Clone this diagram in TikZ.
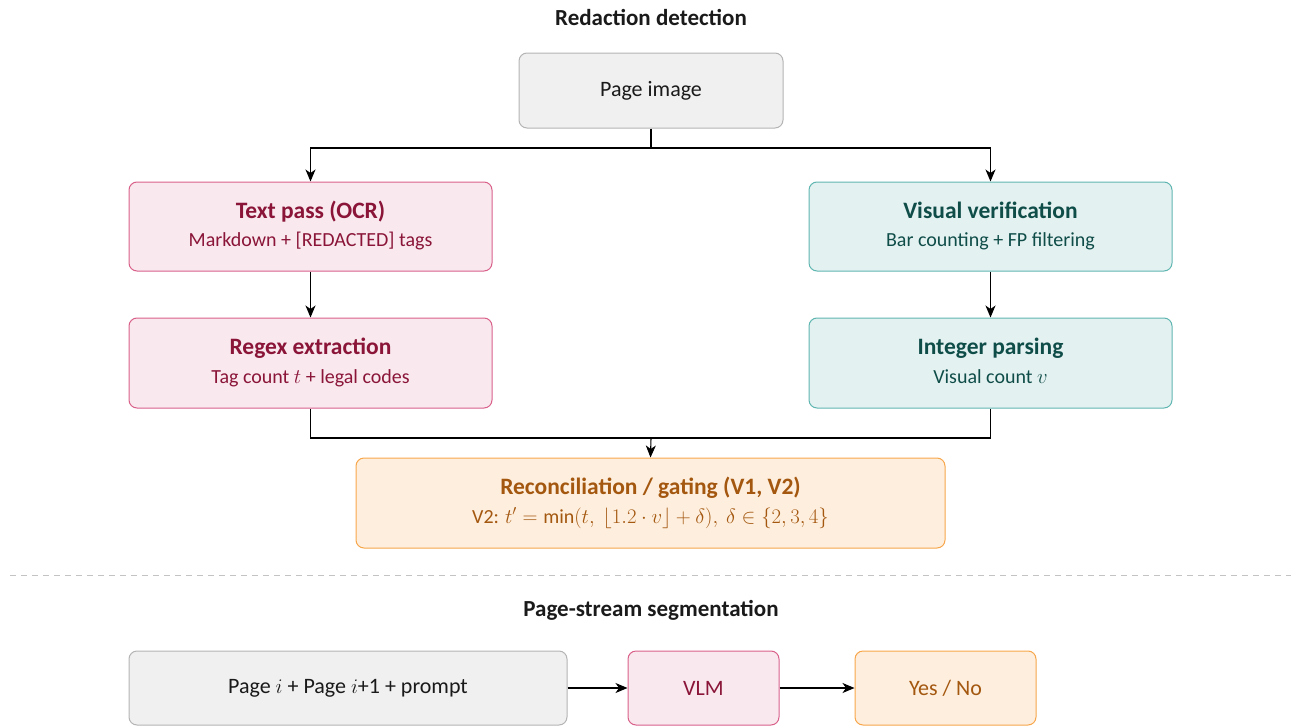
\documentclass[tikz,border=0pt]{standalone}
\usepackage{fontspec}
\setmainfont{Carlito}
\usetikzlibrary{arrows.meta}
\definecolor{pinkfill}{HTML}{F9E9EF}
\definecolor{pinkdraw}{HTML}{D9608A}
\definecolor{pinktext}{HTML}{8A1538}
\definecolor{tealfill}{HTML}{E4F1F1}
\definecolor{tealdraw}{HTML}{5FB5B0}
\definecolor{tealtext}{HTML}{0F4D49}
\definecolor{orfill}{HTML}{FEEEDD}
\definecolor{ordraw}{HTML}{F7A64B}
\definecolor{ortext}{HTML}{A3570F}
\definecolor{grfill}{HTML}{F0F0F0}
\definecolor{grdraw}{HTML}{B4B4B4}
\definecolor{grtext}{HTML}{1A1A1A}
\tikzset{
  box/.style={rounded corners=8pt, line width=1pt, align=center, inner sep=0pt},
  pinkbox/.style={box, fill=pinkfill, draw=pinkdraw, text=pinktext},
  tealbox/.style={box, fill=tealfill, draw=tealdraw, text=tealtext},
  orbox/.style={box, fill=orfill, draw=ordraw, text=ortext},
  grbox/.style={box, fill=grfill, draw=grdraw, text=grtext},
  conn/.style={line width=1.1pt, draw=black},
  arr/.style={conn, -{Stealth[length=12pt,width=10pt,inset=3.5pt]}},
  ttl/.style={font=\fontsize{23}{27}\selectfont\bfseries, text=grtext},
  big/.style={font=\fontsize{22}{26}\selectfont},
}
\newcommand{\hdsub}[2]{{\fontsize{23.5}{27}\selectfont\bfseries\strut #1}\\[3pt]{\fontsize{20}{23}\selectfont\strut #2}}
\begin{document}
\begin{tikzpicture}[x=1pt,y=-1pt]
\useasboundingbox (0,0) rectangle (1291,728);
\node[ttl] (t1) at (651,17) {Redaction detection};
\node[grbox, minimum width=264pt, minimum height=75pt, big] (page) at (651,90.5) {Page image};
\node[pinkbox, minimum width=363pt, minimum height=89pt] (text) at (310.5,226.5) {\hdsub{Text pass (OCR)}{Markdown + [REDACTED] tags}};
\node[tealbox, minimum width=363pt, minimum height=89pt] (vis) at (990.5,226.5) {\hdsub{Visual verification}{Bar counting + FP filtering}};
\node[pinkbox, minimum width=363pt, minimum height=90pt] (regex) at (310.5,363) {\hdsub{Regex extraction}{Tag count $t$ + legal codes}};
\node[tealbox, minimum width=363pt, minimum height=90pt] (int) at (990.5,363) {\hdsub{Integer parsing}{Visual count $v$}};
\node[orbox, minimum width=589pt, minimum height=90pt] (rec) at (650.5,503) {\hdsub{Reconciliation / gating (V1, V2)}{V2: $t' = \min(t,\ \lfloor 1.2\cdot v\rfloor + \delta),\ \delta\in\{2,3,4\}$}};
\coordinate (split) at (651,148);
\coordinate (join) at (651,438);
\draw[conn] (page.south) -- (split);
\draw[arr] (split) -| (text.north);
\draw[arr] (split) -| (vis.north);
\draw[arr] (text) -- (regex);
\draw[arr] (vis) -- (int);
\draw[conn] (regex.south) |- (join);
\draw[conn] (int.south) |- (join);
\draw[arr] (join) -- (rec.north);
\coordinate (dl) at (10,575);
\coordinate (dr) at (1291,575);
\draw[grdraw!80, line width=1pt, dash pattern=on 6pt off 5pt] (dl) -- (dr);
\node[ttl] (t2) at (651,610) {Page-stream segmentation};
\node[grbox, minimum width=438pt, minimum height=74pt, big] (pin) at (348,688) {Page $i$ + Page $i$+1 + prompt};
\node[pinkbox, minimum width=151pt, minimum height=74pt, big] (vlm) at (703.5,688) {VLM};
\node[orbox, minimum width=181pt, minimum height=74pt, big] (yn) at (945.5,688) {Yes / No};
\draw[arr] (pin) -- (vlm);
\draw[arr] (vlm) -- (yn);
\end{tikzpicture}
\end{document}
